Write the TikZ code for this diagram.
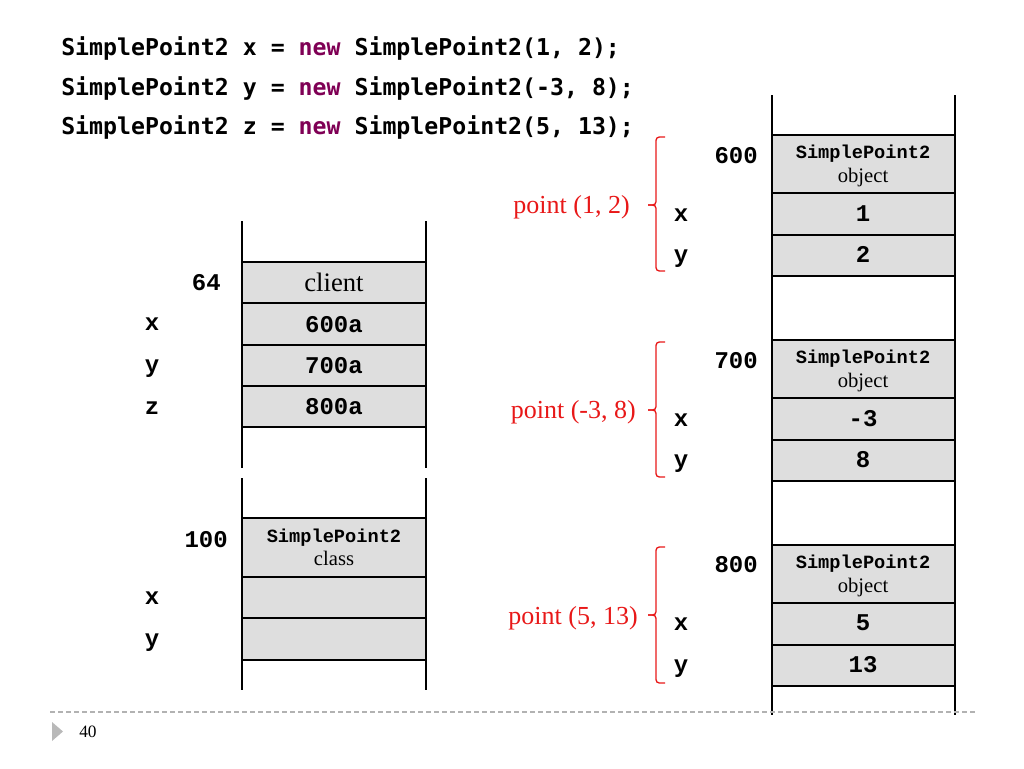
\documentclass[tikz,border=0pt]{standalone}
\usepackage{fontspec}
\newfontfamily\codefont{DejaVu Sans Mono}
\newfontfamily\courfont{Liberation Mono}
\newfontfamily\seriffont{Liberation Serif}
\definecolor{kw}{RGB}{127,0,85}
\definecolor{cellgray}{RGB}{222,222,222}
\definecolor{brred}{RGB}{232,24,24}
\begin{document}
\begin{tikzpicture}[x=0.75pt,y=-0.75pt,
  code/.style={anchor=base west,inner sep=0pt,font=\codefont\bfseries\fontsize{17.4}{20}\selectfont},
  val/.style={anchor=base,inner sep=0pt,font=\courfont\bfseries\fontsize{18}{20}\selectfont},
  addr/.style={anchor=base east,inner sep=0pt,font=\courfont\bfseries\fontsize{18}{20}\selectfont},
  cname/.style={anchor=base,inner sep=0pt,font=\courfont\bfseries\fontsize{14}{16}\selectfont},
  ctype/.style={anchor=base,inner sep=0pt,font=\seriffont\fontsize{15.5}{17}\selectfont},
  serifval/.style={anchor=base,inner sep=0pt,font=\seriffont\fontsize{20}{22}\selectfont},
  cell/.style={draw=black,line width=1pt,fill=cellgray},
  wall/.style={draw=black,line width=1.1pt},
  brace/.style={draw=brred,line width=1pt,rounded corners=2.5pt},
  blabel/.style={anchor=base east,inner sep=0pt,text=brred,font=\seriffont\fontsize{19.5}{22}\selectfont},
]
\useasboundingbox (0,0) rectangle (1024,768);

% code lines
\node[code] (c1) at (61,55) {SimplePoint2 x = \textcolor{kw}{new} SimplePoint2(1, 2);};
\node[code] (c2) at (61,95) {SimplePoint2 y = \textcolor{kw}{new} SimplePoint2(-3, 8);};
\node[code] (c3) at (61,134) {SimplePoint2 z = \textcolor{kw}{new} SimplePoint2(5, 13);};

% ---------- client stack ----------
\draw[cell] (242,262) rectangle (426,303);
\draw[cell] (242,303) rectangle (426,345);
\draw[cell] (242,345) rectangle (426,386);
\draw[cell] (242,386) rectangle (426,427);
\draw[wall] (242,221) -- (242,468);
\draw[wall] (426,221) -- (426,468);
\node[serifval] (client) at (334,291) {client};
\node[val] (v600a) at (334,332) {600a};
\node[val] (v700a) at (334,373) {700a};
\node[val] (v800a) at (334,414) {800a};
\node[addr] (a64) at (221,290) {64};
\node[val] (lx) at (152,330) {x};
\node[val] (ly) at (152,372) {y};
\node[val] (lz) at (152,414) {z};

% ---------- class stack ----------
\draw[cell] (242,518) rectangle (426,577);
\draw[cell] (242,577) rectangle (426,618);
\draw[cell] (242,618) rectangle (426,660);
\draw[wall] (242,478) -- (242,690);
\draw[wall] (426,478) -- (426,690);
\node[cname] (clsname) at (334,542) {SimplePoint2};
\node[ctype] (clstype) at (334,565) {class};
\node[addr] (a100) at (228,547) {100};
\node[val] (cx) at (152,604) {x};
\node[val] (cy) at (152,646) {y};

% ---------- object stack ----------
\foreach \t in {135,340,545}{
  \draw[cell] (772,\t) rectangle (955,\t+58);
  \draw[cell] (772,\t+58) rectangle (955,\t+100);
  \draw[cell] (772,\t+100) rectangle (955,\t+141);
}
\draw[wall] (772,95) -- (772,715);
\draw[wall] (955,95) -- (955,715);

% object 600
\node[cname] (o1n) at (863,158) {SimplePoint2};
\node[ctype] (o1t) at (863,182) {object};
\node[val] (o1x) at (863,221) {1};
\node[val] (o1y) at (863,262) {2};
\node[addr] (a600) at (758,163) {600};
\node[val] (o1lx) at (681,221) {x};
\node[val] (o1ly) at (681,262) {y};
% object 700
\node[cname] (o2n) at (863,363) {SimplePoint2};
\node[ctype] (o2t) at (863,387) {object};
\node[val] (o2x) at (863,426) {-3};
\node[val] (o2y) at (863,467) {8};
\node[addr] (a700) at (758,368) {700};
\node[val] (o2lx) at (681,426) {x};
\node[val] (o2ly) at (681,467) {y};
% object 800
\node[cname] (o3n) at (863,568) {SimplePoint2};
\node[ctype] (o3t) at (863,592) {object};
\node[val] (o3x) at (863,630) {5};
\node[val] (o3y) at (863,672) {13};
\node[addr] (a800) at (758,572) {800};
\node[val] (o3lx) at (681,630) {x};
\node[val] (o3ly) at (681,672) {y};

% ---------- red braces ----------
\draw[brace] (665,137) -- (656,137) -- (656,205) -- (648,205);
\draw[brace] (648,205) -- (656,205) -- (656,271) -- (665,271);
\draw[brace] (665,342) -- (656,342) -- (656,410) -- (648,410);
\draw[brace] (648,410) -- (656,410) -- (656,477) -- (665,477);
\draw[brace] (665,547) -- (656,547) -- (656,615) -- (648,615);
\draw[brace] (648,615) -- (656,615) -- (656,683) -- (665,683);
\node[blabel] (p1) at (630,213) {point (1, 2)};
\node[blabel] (p2) at (636,418) {point (-3, 8)};
\node[blabel] (p3) at (638,624) {point (5, 13)};

% ---------- footer ----------
\draw[gray!60,line width=0.8pt,dash pattern=on 4pt off 2pt] (50,712) -- (975,712);
\fill[gray!55] (52,722) -- (63,731.5) -- (52,741) -- cycle;
\node[anchor=base west,inner sep=0pt,font=\seriffont\fontsize{13}{15}\selectfont] (pg) at (79,737) {40};
\end{tikzpicture}
\end{document}
